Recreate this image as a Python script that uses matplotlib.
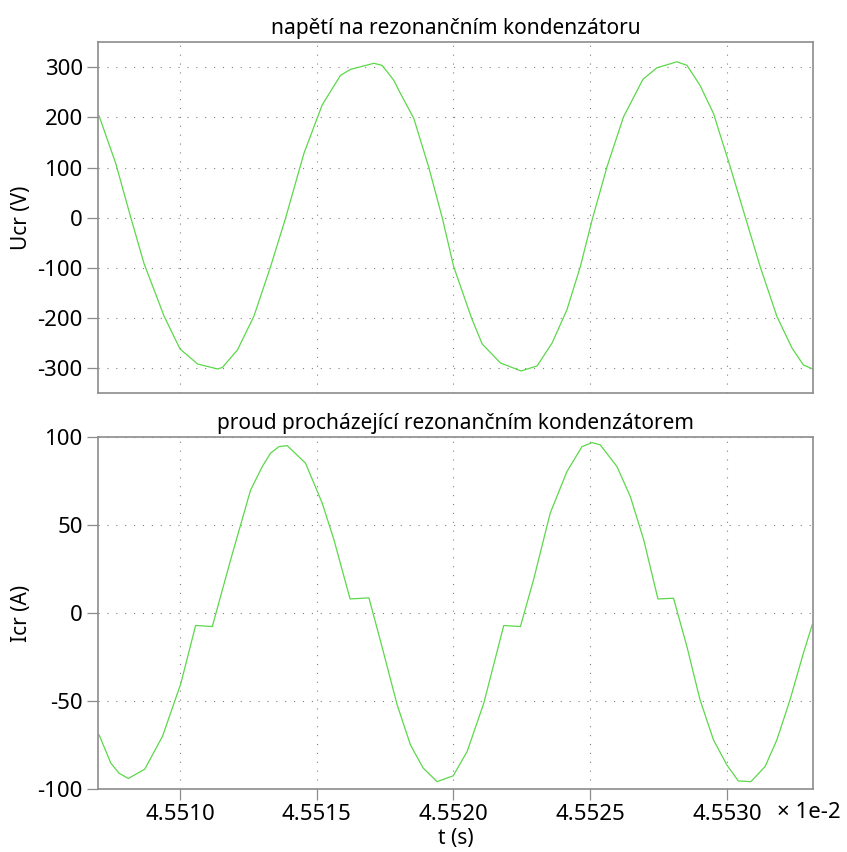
import matplotlib
matplotlib.use("Agg")
import matplotlib.pyplot as plt
import numpy as np

# time axis in units of 1e-2 s
t_u = [4.550704, 4.550765, 4.550820, 4.550868, 4.550942, 4.551000, 4.551064,
       4.551137, 4.551155, 4.551210, 4.551270, 4.551331, 4.551386, 4.551453,
       4.551520, 4.551587, 4.551624, 4.551709, 4.551739, 4.551782, 4.551806,
       4.551855, 4.551910, 4.551959, 4.552001, 4.552066, 4.552105, 4.552172,
       4.552247, 4.552306, 4.552361, 4.552415, 4.552464, 4.552507, 4.552562,
       4.552622, 4.552693, 4.552744, 4.552817, 4.552854, 4.552902, 4.552951,
       4.553012, 4.553067, 4.553122, 4.553183, 4.553238, 4.553280, 4.553314]
ucr = [203, 108, 0, -91, -197, -262, -292,
       -302, -299, -264, -197, -98, -1, 128,
       225, 284, 296, 308, 304, 274, 248,
       198, 100, 0, -98, -200, -252, -290,
       -306, -296, -250, -184, -98, -5, 102,
       201, 276, 299, 311, 304, 264, 208,
       102, 2, -98, -197, -260, -294, -302]

t_i = [4.550704, 4.550747, 4.550777, 4.550811, 4.550871, 4.550936, 4.551003,
       4.551057, 4.551118, 4.551185, 4.551258, 4.551301, 4.551331, 4.551362,
       4.551392, 4.551459, 4.551520, 4.551563, 4.551622, 4.551691, 4.551742,
       4.551794, 4.551843, 4.551889, 4.551940, 4.551999, 4.552050, 4.552111,
       4.552184, 4.552245, 4.552293, 4.552354, 4.552415, 4.552470, 4.552507,
       4.552537, 4.552598, 4.552647, 4.552696, 4.552748, 4.552805, 4.552854,
       4.552902, 4.552951, 4.553000, 4.553042, 4.553088, 4.553140, 4.553183,
       4.553231, 4.553280, 4.553312]
icr = [-69.2, -85.3, -91, -94, -88.7, -70, -40,
       -7, -7.6, 30.3, 70, 83.4, 91, 94.7,
       95.3, 85.3, 62.6, 41.7, 8.1, 8.7, -21,
       -52, -75, -88, -95.8, -92.5, -78.7, -51.2,
       -7, -7.6, 19, 56.9, 80.5, 94.7, 97,
       95.7, 83.4, 66.3, 41.7, 8.1, 8.5, -19,
       -49.3, -72, -86.3, -95.4, -95.8, -87.2, -72,
       -49.3, -22.7, -6.7]

x_ticks = [4.5510, 4.5515, 4.5520, 4.5525, 4.5530]
x_ticklabels = ["4.5510", "4.5515", "4.5520", "4.5525", "4.5530"]
u_ticks = [-300, -200, -100, 0, 100, 200, 300]
i_ticks = [-100, -50, 0, 50, 100]

plt.rcParams['font.family'] = ['Noto Sans', 'DejaVu Sans']
plt.rcParams['font.size'] = 16

green = '#5cd84a'
edge = '#8c8c8c'

fig = plt.figure(figsize=(8.47, 8.52), dpi=100)
ax1 = fig.add_axes([0.1157, 0.5387, 0.8438, 0.4117])
ax2 = fig.add_axes([0.1157, 0.0739, 0.8438, 0.4128])

ax1.plot(t_u, ucr, color=green, lw=0.9)
ax2.plot(t_i, icr, color=green, lw=0.9)

for ax in (ax1, ax2):
    ax.set_xlim(4.5507, 4.553314)
    ax.set_xticks(x_ticks)
    ax.grid(True, color='#808080', linestyle=(0, (1, 7)), linewidth=0.8)
    for s in ax.spines.values():
        s.set_color(edge)
        s.set_linewidth(1.2)
    ax.tick_params(axis='both', color=edge, length=8, width=0.9, pad=3, labelsize=16)

ax1.set_ylim(-350, 350)
ax1.set_yticks(u_ticks)
ax1.set_yticklabels([str(v) for v in u_ticks])
ax1.tick_params(axis='x', length=0, labelbottom=False)
ax1.set_ylabel("Ucr (V)", fontsize=15, labelpad=4)
ax1.set_title("napětí na rezonančním kondenzátoru", fontsize=15, pad=6)

ax2.set_ylim(-100, 100)
ax2.set_yticks(i_ticks)
ax2.set_yticklabels([str(v) for v in i_ticks])
ax2.set_xticklabels(x_ticklabels)
ax2.set_ylabel("Icr (A)", fontsize=15, labelpad=4)
ax2.set_xlabel("t (s)", fontsize=15, labelpad=2)
ax2.set_title("proud procházející rezonančním kondenzátorem", fontsize=15, pad=6)

fig.text(0.917, 0.0458, "× 1e-2", fontsize=16, ha='left', va='center')

fig.savefig("out.png", dpi=100)
